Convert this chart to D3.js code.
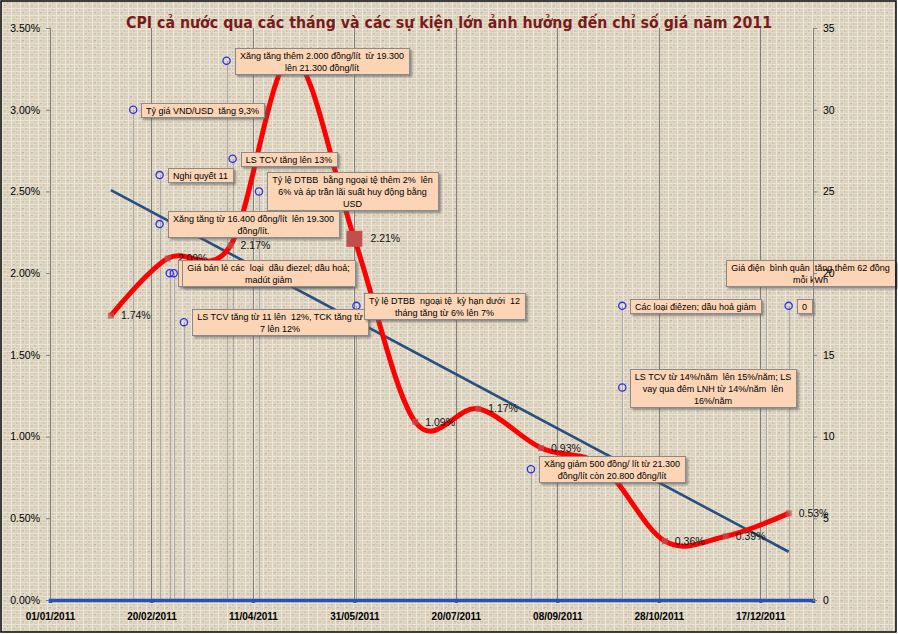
<!DOCTYPE html>
<html>
<head>
<meta charset="utf-8">
<title>CPI 2011</title>
<script src="https://cdn.jsdelivr.net/npm/d3@7"></script>
<style>
body { margin: 0; background: #fff; }
svg text { font-family: "Liberation Sans", Arial, sans-serif; }
.lbl { font-size: 9px; fill: #000; white-space: pre; }
.ptlbl { font-size: 10.5px; fill: #111; }
.tick text { font-size: 10.5px; fill: #000; }
</style>
</head>
<body>
<svg width="898" height="634"></svg>
<script>
// CPI tung thang (ngay cuoi thang), %
var months = ["31/01/2011", "28/02/2011", "31/03/2011", "30/04/2011", "31/05/2011", "30/06/2011",
              "31/07/2011", "31/08/2011", "30/09/2011", "31/10/2011", "30/11/2011", "31/12/2011"];
var cpi = [1.74, 2.09, 2.17, 3.32, 2.21, 1.09, 1.17, 0.93, 0.82, 0.36, 0.39, 0.53];
var bigPoint = "31/05/2011";

// truc
var tickDates = ["01/01/2011", "20/02/2011", "11/04/2011", "31/05/2011", "20/07/2011", "08/09/2011", "28/10/2011", "17/12/2011"];
var axisEnd = "12/01/2012";
var leftTicks = [0, 0.5, 1, 1.5, 2, 2.5, 3, 3.5];
var rightTicks = [0, 5, 10, 15, 20, 25, 30, 35];

// cac su kien (muc theo truc phai)
var eventDates = ["11/02/2011", "24/02/2011", "14/04/2011", "24/02/2011", "01/03/2011", "03/03/2011",
                  "08/03/2011", "29/03/2011", "01/04/2011", "01/06/2011", "26/08/2011", "10/10/2011",
                  "10/10/2011", "20/12/2011", "31/12/2011"];
var eventLevels = [30, 26, 25, 23, 20, 20, 17, 33, 27, 18, 8, 18, 13, 20, 18];
var eventLabels = [
  "Tỷ giá VND/USD  tăng 9,3%",
  "Nghị quyết 11",
  "Tỷ lệ DTBB  bằng ngoại tệ thêm 2%  lên\n6% và áp trần lãi suất huy động bằng\nUSD",
  "Xăng tăng từ 16.400 đồng/lít  lên 19.300\nđồng/lít.",
  "Giá bán lẻ các  loại  dầu điezel; dầu hoả;\nmadút giảm",
  "Giá bán lẻ các  loại  dầu điezel; dầu hoả;\nmadút giảm",
  "LS TCV tăng từ 11 lên  12%, TCK tăng từ\n7 lên 12%",
  "Xăng tăng thêm 2.000 đồng/lít  từ 19.300\nlên 21.300 đồng/lít",
  "LS TCV tăng lên 13%",
  "Tỷ lệ DTBB  ngoại tệ  kỳ hạn dưới  12\ntháng tăng từ 6% lên 7%",
  "Xăng giảm 500 đồng/ lít từ 21.300\nđồng/lít còn 20.800 đồng/lít",
  "Các loại điêzen; dầu hoả giảm",
  "LS TCV từ 14%/năm  lên 15%/năm; LS\nvay qua đêm LNH từ 14%/năm  lên\n16%/năm",
  "Giá điện  bình quân  tăng thêm 62 đồng\nmỗi kWh",
  "0"
];

var parse = d3.timeParse("%d/%m/%Y");
var fmtTick = d3.timeFormat("%d/%m/%Y");

var svg = d3.select("svg");
var W = 898, H = 634;
var plotL = 50, plotR = 813, plotT = 28, plotB = 600;

var x = d3.scaleTime().domain([parse(tickDates[0]), parse(axisEnd)]).range([plotL, plotR]);
var yL = d3.scaleLinear().domain([0, 3.5]).range([plotB, plotT]);
var yR = d3.scaleLinear().domain([0, 35]).range([plotB, plotT]);

// nen vai canvas
var defs = svg.append("defs");
var pat = defs.append("pattern").attr("id", "canvas")
    .attr("patternUnits", "userSpaceOnUse").attr("width", 9).attr("height", 7);
pat.append("rect").attr("width", 9).attr("height", 7).attr("fill", "#dad0bc");
pat.append("rect").attr("x", 0).attr("y", 1).attr("width", 9).attr("height", 1).attr("fill", "#eae4d6");
pat.append("rect").attr("x", 0).attr("y", 4).attr("width", 9).attr("height", 1).attr("fill", "#e3dbca");
pat.append("rect").attr("x", 2).attr("y", 0).attr("width", 1).attr("height", 7).attr("fill", "#ece7db");
pat.append("rect").attr("x", 6).attr("y", 0).attr("width", 1).attr("height", 7).attr("fill", "#e2dac8");
pat.append("rect").attr("x", 4).attr("y", 5).attr("width", 2).attr("height", 1).attr("fill", "#c4b9a3");
pat.append("rect").attr("x", 7).attr("y", 2).attr("width", 1).attr("height", 2).attr("fill", "#cbc1ab");

var shadow = defs.append("filter").attr("id", "shadow").attr("x", "-10%").attr("y", "-20%")
    .attr("width", "130%").attr("height", "160%");
shadow.append("feDropShadow").attr("dx", 2).attr("dy", 2).attr("stdDeviation", 0.8)
    .attr("flood-color", "#5a5a5a").attr("flood-opacity", 0.6);

svg.append("rect").attr("x", 1).attr("y", 1).attr("width", W - 3).attr("height", H - 3)
    .attr("fill", "url(#canvas)");

// luoi doc
svg.append("g").selectAll("line").data(tickDates).enter().append("line")
    .attr("x1", function(d) { return Math.round(x(parse(d))) + 0.5; })
    .attr("x2", function(d) { return Math.round(x(parse(d))) + 0.5; })
    .attr("y1", plotT).attr("y2", plotB)
    .attr("stroke", "#7f7f7f").attr("stroke-width", 1);

// duong tha tu su kien
svg.append("g").selectAll("line").data(eventDates).enter().append("line")
    .attr("x1", function(d) { return Math.round(x(parse(d))) + 0.5; })
    .attr("x2", function(d) { return Math.round(x(parse(d))) + 0.5; })
    .attr("y1", function(d, i) { return yR(eventLevels[i]); })
    .attr("y2", plotB)
    .attr("stroke", "#a8a8a8").attr("stroke-width", 1);

// truc trai
var axL = svg.append("g").attr("transform", "translate(" + plotL + ",0)")
    .call(d3.axisLeft(yL).tickValues(leftTicks).tickSize(4).tickPadding(6)
      .tickFormat(function(d) { return d3.format(".2f")(d) + "%"; }));
axL.select(".domain").attr("stroke", "#7f7f7f");
axL.selectAll(".tick line").attr("stroke", "#7f7f7f");

// truc x (duong xanh dam)
var axX = svg.append("g").attr("transform", "translate(0," + plotB + ")")
    .call(d3.axisBottom(x).tickValues(tickDates.map(parse)).tickSize(3).tickPadding(10)
      .tickFormat(fmtTick));
axX.select(".domain").attr("stroke", "#2452b8").attr("stroke-width", 3.5);
axX.selectAll(".tick line").attr("stroke", "#2452b8").attr("stroke-width", 3);
axX.selectAll(".tick text").style("font-weight", "bold").style("font-size", "10px");

// duong xu huong tuyen tinh
var n = cpi.length;
var xs = d3.range(1, n + 1);
var mx = d3.mean(xs), my = d3.mean(cpi);
var slope = d3.sum(xs, function(v, i) { return (v - mx) * (cpi[i] - my); }) /
            d3.sum(xs, function(v) { return (v - mx) * (v - mx); });
var icpt = my - slope * mx;
svg.append("line")
    .attr("x1", x(parse(months[0]))).attr("y1", yL(icpt + slope * 1))
    .attr("x2", x(parse(months[n - 1]))).attr("y2", yL(icpt + slope * n))
    .attr("stroke", "#274f80").attr("stroke-width", 2.6);

// CPI (duong do lam tron)
var pts = months.map(function(m, i) { return {date: parse(m), v: cpi[i], key: m}; });
var line = d3.line().curve(d3.curveCardinal.tension(0))
    .x(function(d) { return x(d.date); })
    .y(function(d) { return yL(d.v); });
svg.append("path").datum(pts).attr("d", line)
    .attr("fill", "none").attr("stroke", "#ff0000").attr("stroke-width", 5)
    .attr("stroke-linejoin", "round");

svg.append("g").selectAll("rect").data(pts).enter().append("rect")
    .attr("x", function(d) { return x(d.date) - (d.key == bigPoint ? 8 : 3); })
    .attr("y", function(d) { return yL(d.v) - (d.key == bigPoint ? 8 : 3); })
    .attr("width", function(d) { return d.key == bigPoint ? 16 : 6; })
    .attr("height", function(d) { return d.key == bigPoint ? 16 : 6; })
    .attr("fill", "#c0504d").attr("opacity", function(d) { return d.key == bigPoint ? 1 : 0.75; });

svg.append("g").selectAll("text").data(pts).enter().append("text")
    .attr("class", "ptlbl")
    .attr("x", function(d) { return x(d.date) + (d.key == bigPoint ? 16 : 10); })
    .attr("y", function(d) { return yL(d.v); })
    .attr("dy", "0.35em")
    .text(function(d) { return d3.format(".2f")(d.v) + "%"; });

// diem su kien
svg.append("g").selectAll("circle").data(eventDates).enter().append("circle")
    .attr("cx", function(d) { return x(parse(d)); })
    .attr("cy", function(d, i) { return yR(eventLevels[i]); })
    .attr("r", 3.6)
    .attr("fill", "none").attr("stroke", "#2f2fe8").attr("stroke-width", 1.3);

// nhan su kien
var boxes = svg.append("g").selectAll("g").data(eventLabels).enter().append("g");
boxes.each(function(txt, i) {
  var g = d3.select(this);
  var lines = txt.split("\n");
  var r = g.append("rect").attr("fill", "#fbd5b5").attr("stroke", "#8a8a8a")
      .attr("stroke-width", 1).attr("filter", "url(#shadow)");
  var t = g.append("text").attr("class", "lbl").attr("text-anchor", "middle");
  var spans = lines.map(function(s) { return t.append("tspan").text(s); });
  var w = Math.round(d3.max(spans, function(s) { return s.node().getComputedTextLength(); }) + 10);
  var h = lines.length * 12 + 2;
  var ex = x(parse(eventDates[i])), ey = yR(eventLevels[i]);
  var bx = Math.round(ex + 8);
  if (bx + w > 895) bx = 895 - w;
  var by = Math.round(ey - h / 2);
  r.attr("x", bx + 0.5).attr("y", by + 0.5).attr("width", w).attr("height", h);
  spans.forEach(function(s, k) {
    s.attr("x", bx + w / 2).attr("y", by + 10.5 + k * 12);
  });
});

// truc phai
var axR = svg.append("g").attr("transform", "translate(" + plotR + ",0)")
    .call(d3.axisRight(yR).tickValues(rightTicks).tickSize(4).tickPadding(6));
axR.select(".domain").attr("stroke", "#7f7f7f");
axR.selectAll(".tick line").attr("stroke", "#7f7f7f");

// tieu de
svg.append("text").attr("x", 449).attr("y", 28).attr("text-anchor", "middle")
    .style("font-family", "'DejaVu Sans', sans-serif").style("font-weight", "bold")
    .style("font-size", "16px").attr("fill", "#7b1a1a")
    .attr("textLength", 646).attr("lengthAdjust", "spacingAndGlyphs")
    .text("CPI cả nước qua các tháng và các sự kiện lớn ảnh hưởng đến chỉ số giá năm 2011");

// khung
svg.append("rect").attr("x", 1).attr("y", 1).attr("width", W - 3).attr("height", H - 3)
    .attr("fill", "none").attr("stroke", "#000").attr("stroke-width", 1.5);
</script>
</body>
</html>
